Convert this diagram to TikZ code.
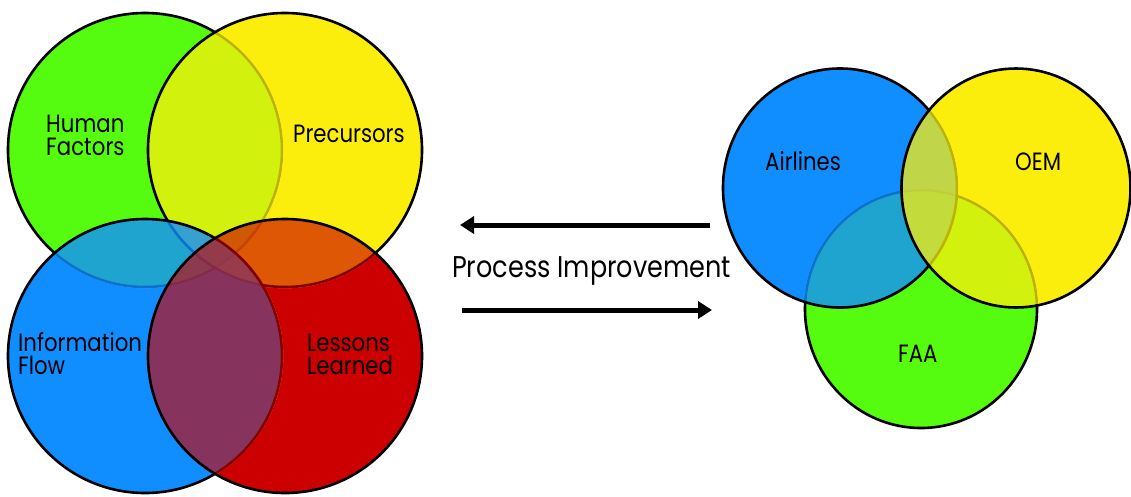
\documentclass[tikz,border=0pt]{standalone}
\usepackage{fontspec}
\setmainfont{Poppins}[FakeStretch=0.85]
\usetikzlibrary{arrows.meta}
\definecolor{cgreen}{RGB}{86,252,16}
\definecolor{cyellow}{RGB}{252,238,12}
\definecolor{cblue}{RGB}{16,142,255}
\definecolor{cred}{RGB}{204,0,0}
\tikzset{
  venn/.style={draw=black, line width=2.6pt},
  lbl/.style={anchor=base west, inner sep=0pt, font=\fontsize{25}{23}\selectfont, align=left},
  bigarrow/.style={line width=5pt, -{Triangle[length=14pt,width=17pt]}},
}
% outside-of-shape clip: big rectangle minus shape (even odd rule set on scope)
\newcommand{\outclip}[2]{\clip (-200,-200) rectangle (1400,800) #1 #2;}
\begin{document}
\begin{tikzpicture}[x=1pt,y=-1pt]
\useasboundingbox (0,0) rectangle (1131,496);
\clip (0,0) rectangle (1131,496);
% ---------- left group ----------
% Human Factors (green)
\fill[cgreen] (145,150) circle (137);
\draw[venn] (145,150) circle (137);
% Precursors (yellow)
\fill[cyellow, fill opacity=0.75] (285,150) circle (137);
\begin{scope}[even odd rule]
  \clip (285,150) circle (137);
  \outclip{(145,150)}{circle (138.4)}
  \fill[cyellow] (0,0) rectangle (1131,496);
\end{scope}
\draw[venn] (285,150) circle (137);
% Information Flow (blue)
\fill[cblue, fill opacity=0.8] (145,356) circle (137);
\begin{scope}[even odd rule]
  \clip (145,356) circle (137);
  \outclip{(145,150)}{circle (138.4)}
  \outclip{(285,150)}{circle (138.4)}
  \fill[cblue] (0,0) rectangle (1131,496);
\end{scope}
\draw[venn] (145,356) circle (137);
% Lessons Learned (red)
\fill[cred, fill opacity=0.63] (285,356) circle (137);
\begin{scope}[even odd rule]
  \clip (285,356) circle (137);
  \outclip{(145,150)}{circle (138.4)}
  \outclip{(285,150)}{circle (138.4)}
  \outclip{(145,356)}{circle (138.4)}
  \fill[cred] (0,0) rectangle (1131,496);
\end{scope}
\draw[venn] (285,356) circle (137);
\node[lbl] (hf) at (46,155) {Human\\Factors};
\node[lbl] (pre) at (293,142) {Precursors};
\node[lbl] (inf) at (18,374) {Information\\Flow};
\node[lbl] (les) at (307,374) {Lessons\\Learned};
% ---------- right group ----------
% FAA (green)
\fill[cgreen] (921,309) ellipse [x radius=116, y radius=119];
\draw[venn] (921,309) ellipse [x radius=116, y radius=119];
% Airlines (blue)
\fill[cblue, fill opacity=0.8] (840,188) ellipse [x radius=117, y radius=119.5];
\begin{scope}[even odd rule]
  \clip (840,188) ellipse [x radius=117, y radius=119.5];
  \outclip{(921,309)}{ellipse [x radius=117.4, y radius=120.4]}
  \fill[cblue] (0,0) rectangle (1131,496);
\end{scope}
\draw[venn] (840,188) ellipse [x radius=117, y radius=119.5];
% OEM (yellow)
\fill[cyellow, fill opacity=0.75] (1016,188) ellipse [x radius=114.5, y radius=119.5];
\begin{scope}[even odd rule]
  \clip (1016,188) ellipse [x radius=114.5, y radius=119.5];
  \outclip{(921,309)}{ellipse [x radius=117.4, y radius=120.4]}
  \outclip{(840,188)}{ellipse [x radius=118.4, y radius=120.9]}
  \fill[cyellow] (0,0) rectangle (1131,496);
\end{scope}
\draw[venn] (1016,188) ellipse [x radius=114.5, y radius=119.5];
\node[lbl] (air) at (765,170) {Airlines};
\node[lbl] (oem) at (1015,170) {OEM};
\node[lbl] (faa) at (898,362) {FAA};
% ---------- arrows ----------
\coordinate (a1s) at (710,225);
\coordinate (a1e) at (460,225);
\coordinate (a2s) at (462,310);
\coordinate (a2e) at (712,310);
\draw[bigarrow] (a1s) -- (a1e);
\draw[bigarrow] (a2s) -- (a2e);
\node[anchor=base west, inner sep=0pt, font=\fontsize{30}{32}\selectfont] (pi) at (452,277) {Process Improvement};
\end{tikzpicture}
\end{document}
